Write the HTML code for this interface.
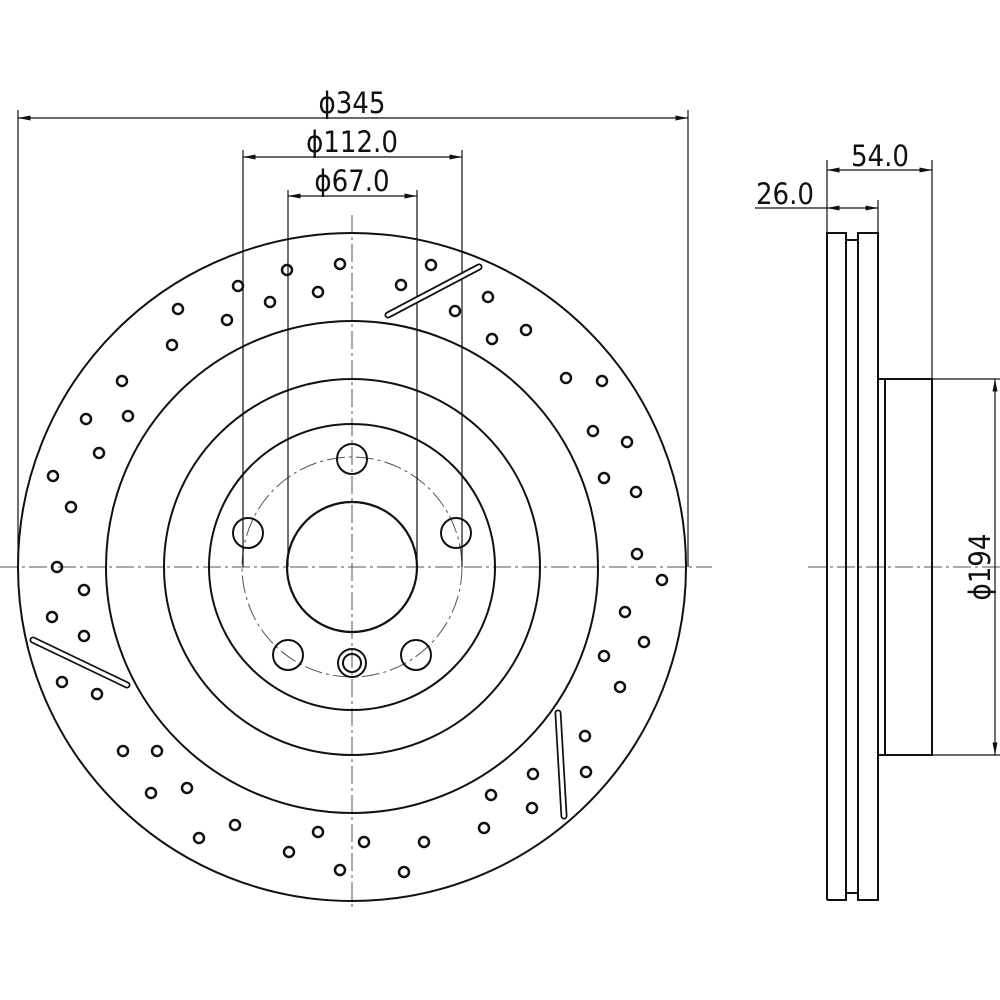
<!DOCTYPE html>
<html><head><style>body{margin:0;background:#fff}svg{display:block}text{font-family:"DejaVu Sans Condensed","Liberation Sans",sans-serif;fill:#111}</style></head>
<body>
<svg width="1000" height="1000" viewBox="0 0 1000 1000" xmlns="http://www.w3.org/2000/svg">
<defs><marker id="a" viewBox="0 0 10 4" refX="10" refY="2" markerWidth="14" markerHeight="5" orient="auto-start-reverse" markerUnits="userSpaceOnUse"><path d="M0,0 L10,2 L0,4z" fill="#111"/></marker></defs>
<g stroke="#111" fill="none">
<g stroke-width="1" stroke-dasharray="18,4,3,4" stroke="#555">
<line x1="0" y1="567" x2="712" y2="567"/><line x1="808" y1="567" x2="1000" y2="567"/>
<line x1="352" y1="215" x2="352" y2="910"/>
<circle cx="352" cy="567" r="110"/>
</g>
<circle cx="352" cy="567" r="334" stroke-width="2"/>
<circle cx="352" cy="567" r="246" stroke-width="2"/>
<circle cx="352" cy="567" r="188" stroke-width="2"/>
<circle cx="352" cy="567" r="143" stroke-width="2"/>
<circle cx="352" cy="567" r="65" stroke-width="2.2"/>
<g stroke-width="2">
<circle cx="352" cy="459" r="15"/><circle cx="248" cy="533" r="15"/><circle cx="456" cy="533" r="15"/>
<circle cx="288" cy="655" r="15"/><circle cx="416" cy="655" r="15"/>
<circle cx="352" cy="663" r="14"/><circle cx="352" cy="663" r="9"/>
</g>
<g stroke-width="1.2">
<line x1="18" y1="110" x2="18" y2="567"/><line x1="688" y1="110" x2="688" y2="567"/>
<line x1="243" y1="150" x2="243" y2="567"/><line x1="462" y1="150" x2="462" y2="567"/>
<line x1="288" y1="190" x2="288" y2="567"/><line x1="417" y1="190" x2="417" y2="567"/>
<line x1="18" y1="118" x2="688" y2="118" marker-start="url(#a)" marker-end="url(#a)"/>
<line x1="243" y1="157" x2="462" y2="157" marker-start="url(#a)" marker-end="url(#a)"/>
<line x1="288" y1="196" x2="417" y2="196" marker-start="url(#a)" marker-end="url(#a)"/>
</g>
<g stroke-linecap="round">
<line x1="388" y1="315" x2="479" y2="267" stroke-width="7"/><line x1="388" y1="315" x2="479" y2="267" stroke-width="3.5" stroke="#fff"/>
<line x1="33" y1="640" x2="127" y2="685" stroke-width="7"/><line x1="33" y1="640" x2="127" y2="685" stroke-width="3.5" stroke="#fff"/>
<line x1="558" y1="713" x2="564" y2="816" stroke-width="7"/><line x1="558" y1="713" x2="564" y2="816" stroke-width="3.5" stroke="#fff"/>
</g>
<g stroke-width="2.5">
<circle cx="238" cy="286" r="5"/><circle cx="287" cy="270" r="5"/><circle cx="340" cy="264" r="5"/><circle cx="270" cy="302" r="5"/><circle cx="318" cy="292" r="5"/><circle cx="227" cy="320" r="5"/><circle cx="178" cy="309" r="5"/><circle cx="172" cy="345" r="5"/><circle cx="122" cy="381" r="5"/><circle cx="128" cy="416" r="5"/><circle cx="86" cy="419" r="5"/><circle cx="99" cy="453" r="5"/><circle cx="53" cy="476" r="5"/><circle cx="71" cy="507" r="5"/><circle cx="57" cy="567" r="5"/><circle cx="84" cy="590" r="5"/><circle cx="52" cy="617" r="5"/><circle cx="84" cy="636" r="5"/><circle cx="62" cy="682" r="5"/><circle cx="97" cy="694" r="5"/><circle cx="123" cy="751" r="5"/><circle cx="157" cy="751" r="5"/><circle cx="151" cy="793" r="5"/><circle cx="187" cy="788" r="5"/><circle cx="199" cy="838" r="5"/><circle cx="235" cy="825" r="5"/><circle cx="289" cy="852" r="5"/><circle cx="318" cy="832" r="5"/><circle cx="340" cy="870" r="5"/><circle cx="364" cy="842" r="5"/><circle cx="404" cy="872" r="5"/><circle cx="424" cy="842" r="5"/><circle cx="484" cy="828" r="5"/><circle cx="491" cy="795" r="5"/><circle cx="533" cy="774" r="5"/><circle cx="532" cy="808" r="5"/><circle cx="585" cy="736" r="5"/><circle cx="586" cy="772" r="5"/><circle cx="401" cy="285" r="5"/><circle cx="431" cy="265" r="5"/><circle cx="488" cy="297" r="5"/><circle cx="455" cy="311" r="5"/><circle cx="492" cy="339" r="5"/><circle cx="526" cy="330" r="5"/><circle cx="566" cy="378" r="5"/><circle cx="602" cy="381" r="5"/><circle cx="593" cy="431" r="5"/><circle cx="627" cy="442" r="5"/><circle cx="604" cy="478" r="5"/><circle cx="636" cy="492" r="5"/><circle cx="637" cy="554" r="5"/><circle cx="662" cy="580" r="5"/><circle cx="625" cy="612" r="5"/><circle cx="644" cy="642" r="5"/><circle cx="604" cy="656" r="5"/><circle cx="620" cy="687" r="5"/>
</g>
<g stroke-width="2">
<path d="M827,900 V233 H846 V240 H858 V233 H878 V900 H858 V893 H846 V900 H827"/>
<line x1="846" y1="240" x2="846" y2="893"/><line x1="858" y1="240" x2="858" y2="893"/>
<rect x="878" y="379" width="54" height="376"/>
<line x1="885" y1="379" x2="885" y2="755"/>
</g>
<g stroke-width="1.2">
<line x1="827" y1="160" x2="827" y2="233"/><line x1="932" y1="160" x2="932" y2="379"/><line x1="878" y1="200" x2="878" y2="233"/>
<line x1="827" y1="170" x2="932" y2="170" marker-start="url(#a)" marker-end="url(#a)"/>
<line x1="755" y1="208" x2="827" y2="208"/>
<line x1="827" y1="208" x2="878" y2="208" marker-start="url(#a)" marker-end="url(#a)"/>
<line x1="932" y1="379" x2="1000" y2="379"/><line x1="932" y1="755" x2="1000" y2="755"/>
<line x1="995" y1="379" x2="995" y2="755" marker-start="url(#a)" marker-end="url(#a)"/>
</g>
</g>
<text x="352" y="113" text-anchor="middle" font-size="29">ϕ345</text>
<text x="352" y="152" text-anchor="middle" font-size="29">ϕ112.0</text>
<text x="352" y="191" text-anchor="middle" font-size="29">ϕ67.0</text>
<text x="880" y="166" text-anchor="middle" font-size="29">54.0</text>
<text x="785" y="204" text-anchor="middle" font-size="29">26.0</text>
<text transform="translate(990,567) rotate(-90)" text-anchor="middle" font-size="29">ϕ194</text>
</svg>
</body></html>
